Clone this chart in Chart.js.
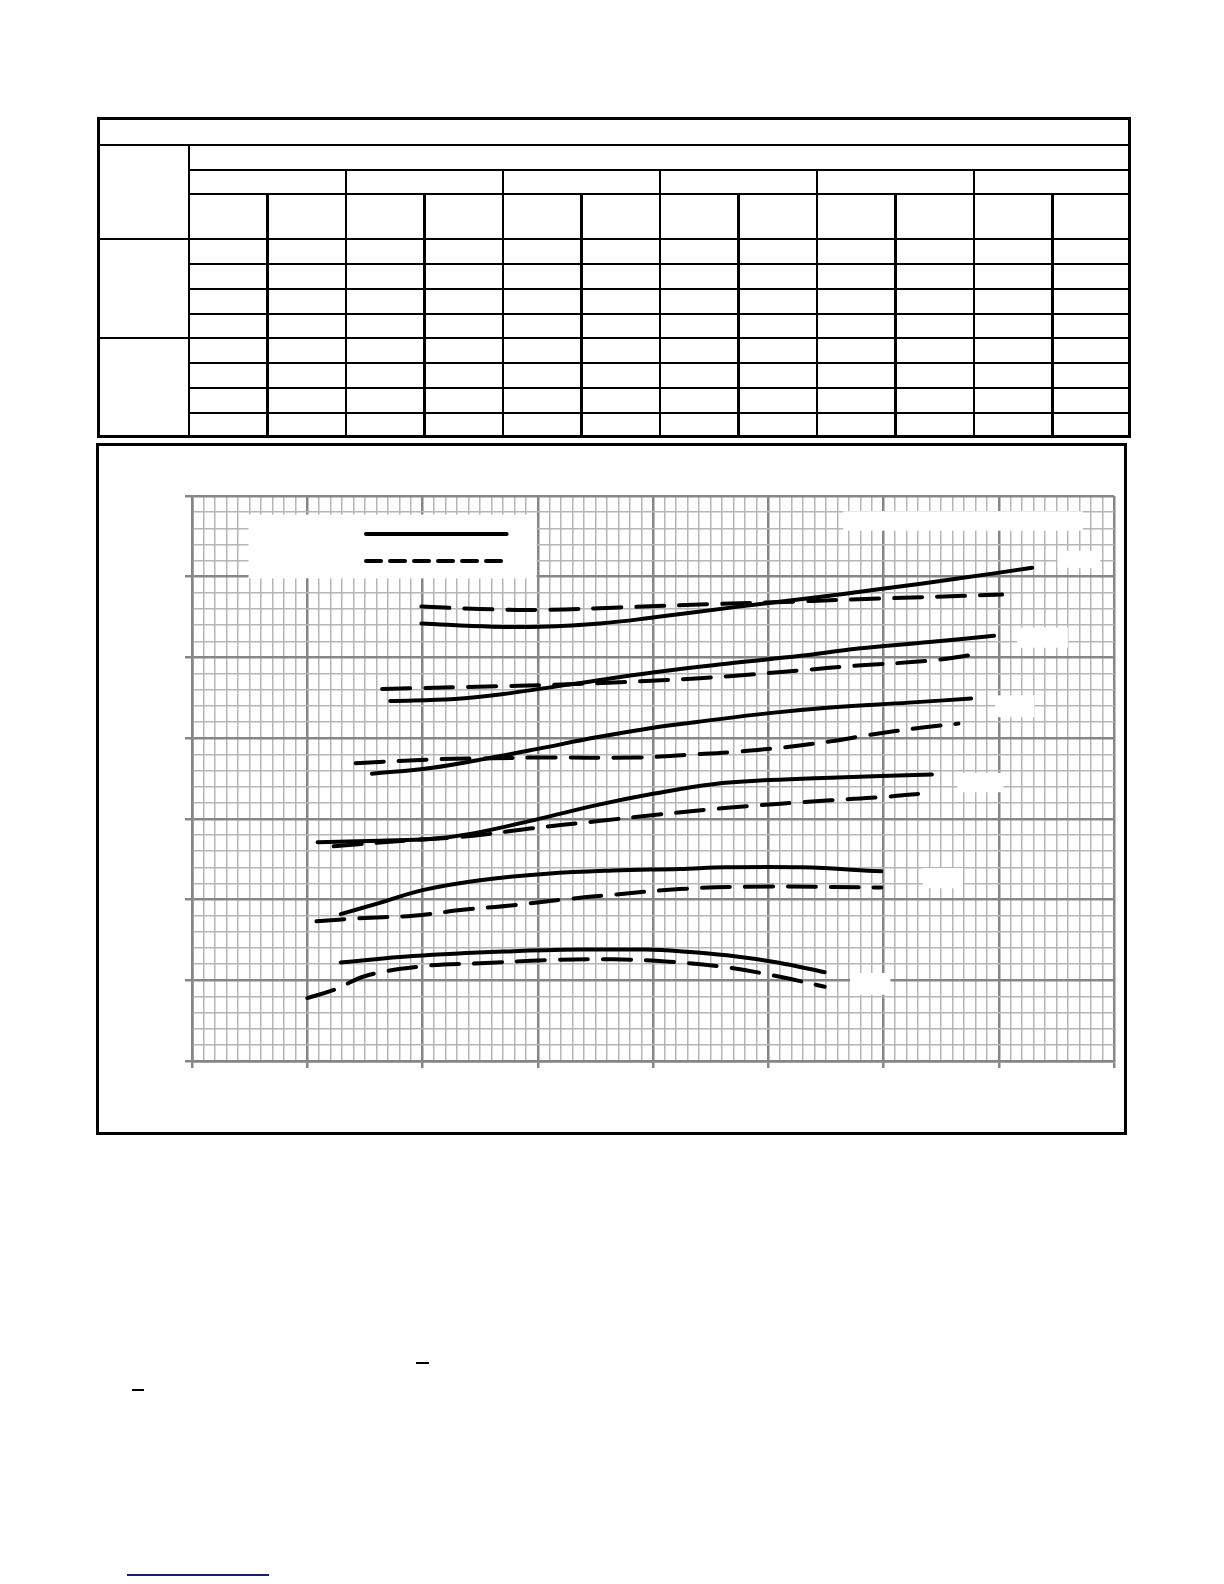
<!DOCTYPE html>
<html><head><meta charset="utf-8">
<script src="https://cdn.jsdelivr.net/npm/chart.js@4.4.1/dist/chart.umd.min.js"></script>
<style>
html,body{margin:0;padding:0;background:#fff;}
body{width:1224px;height:1584px;position:relative;overflow:hidden;}
.ln{position:absolute;}
#tbl{position:absolute;left:97px;top:117px;width:1028px;height:315px;border:3px solid #000;}
#box{position:absolute;left:96px;top:443px;width:1025px;height:686px;border:3px solid #000;}
#cv{position:absolute;left:96px;top:443px;}
</style></head><body>
<div id="tbl"></div>
<div id="box"></div>
<canvas id="cv" width="1029" height="689" style="width:1029px;height:689px"></canvas>
<div id="deco"></div>
<script>
// ---- data (axis units: one major grid cell = 1) ----
const xSolid1 = [1.99,2.61,3.02,3.54,4.03,4.69,5.28,5.99,6.66,7.29];
const ySolid1 = [5.42,5.38,5.38,5.42,5.50,5.62,5.72,5.85,5.98,6.11];
const xDash1  = [1.99,2.50,3.05,3.71,4.52,4.99,5.78,7.03];
const yDash1  = [5.63,5.60,5.59,5.62,5.66,5.68,5.72,5.78];

const xSolid2 = [1.72,2.28,2.67,3.25,4.03,4.69,5.28,5.78,6.40,6.96];
const ySolid2 = [4.46,4.485,4.54,4.66,4.82,4.93,5.02,5.11,5.19,5.27];
const xDash2  = [1.65,2.56,3.11,3.66,4.12,4.69,5.28,5.78,6.40,6.86];
const yDash2  = [4.61,4.64,4.66,4.69,4.72,4.77,4.84,4.90,4.96,5.05];

const xSolid3 = [1.56,2.07,2.64,3.01,3.51,4.00,4.38,5.01,5.54,6.22,6.76];
const ySolid3 = [3.56,3.63,3.77,3.87,4.01,4.13,4.20,4.31,4.38,4.44,4.49];
const xDash3  = [1.42,2.15,2.61,3.00,3.86,4.38,4.71,5.10,5.54,5.88,6.27,6.65];
const yDash3  = [3.69,3.74,3.75,3.76,3.76,3.80,3.83,3.88,3.96,4.04,4.12,4.18];

const xSolid4 = [1.09,1.63,2.07,2.44,3.01,3.51,4.00,4.52,5.01,5.54,6.42];
const ySolid4 = [2.71,2.73,2.75,2.82,3.00,3.17,3.31,3.43,3.48,3.51,3.55];
const xDash4  = [1.23,1.84,2.44,2.93,3.51,4.03,4.67,5.54,5.99,6.39];
const yDash4  = [2.66,2.73,2.79,2.88,2.97,3.05,3.14,3.23,3.27,3.32];

const xSolid5 = [1.29,1.63,2.01,2.50,3.08,3.65,4.23,4.64,5.28,5.98];
const ySolid5 = [1.82,1.96,2.12,2.24,2.32,2.36,2.38,2.40,2.40,2.35];
const xDash5  = [1.08,1.46,1.92,2.33,2.79,3.28,3.65,4.23,4.82,5.98];
const yDash5  = [1.73,1.77,1.80,1.87,1.93,2.01,2.06,2.13,2.16,2.15];

const xSolid6 = [1.29,1.92,2.79,3.37,3.94,4.23,4.64,5.08,5.49];
const ySolid6 = [1.22,1.30,1.36,1.38,1.38,1.36,1.31,1.22,1.10];
const xDash6  = [1.00,1.23,1.52,2.04,2.50,3.08,3.65,4.14,4.64,5.08,5.49];
const yDash6  = [0.78,0.88,1.06,1.18,1.21,1.25,1.26,1.23,1.16,1.05,0.92];

const xRange = [0, 8];
const yRange = [0, 7];

// ---- page frame (table outline and small decorations; text in the source is blank) ----
const deco = document.getElementById('deco');
function line(x1, y1, x2, y2, w, c) {
  const d = document.createElement('div');
  d.className = 'ln';
  d.style.background = c || '#000';
  if (y1 === y2) { d.style.left = x1 + 'px'; d.style.top = (y1 - w / 2) + 'px'; d.style.width = (x2 - x1) + 'px'; d.style.height = w + 'px'; }
  else { d.style.left = (x1 - w / 2) + 'px'; d.style.top = y1 + 'px'; d.style.width = w + 'px'; d.style.height = (y2 - y1) + 'px'; }
  deco.appendChild(d);
}
const T = {l: 97, r: 1131, t: 117, b: 438, c0: 189, cw: (1131 - 189) / 12};
[145, 239, 338].forEach(y => line(T.l, y, T.r, y, 1.6));
[170, 194, 264, 289, 314, 363, 388, 413].forEach(y => line(T.c0, y, T.r, y, 1.6));
line(T.c0, 145, T.c0, T.b, 2.4);
for (let k = 1; k < 12; k++) {
  const x = T.c0 + k * T.cw;
  if (k % 2 === 0) line(x, 170, x, T.b, 2.6); else line(x, 194, x, T.b, 2.2);
}
line(416, 1363, 429, 1363, 1.6);
line(132, 1390, 144, 1390, 1.6);
line(127, 1575, 269, 1575, 1.6, '#1c1c78');

// ---- chart ----
const zip = (xs, ys) => xs.map((x, i) => ({x, y: ys[i]}));
const solid = (xs, ys) => ({data: zip(xs, ys), borderColor: '#000', borderWidth: 4, pointRadius: 0,
  tension: 0.4, borderCapStyle: 'round', borderJoinStyle: 'round', fill: false});
const dashed = (xs, ys) => Object.assign(solid(xs, ys), {borderDash: [28, 15]});

const isMajor = v => Math.abs(v - Math.round(v)) < 1e-6;
const MAJ = '#868686', MIN = '#b6b6b6';

// white patches (blanked labels) and legend, in axis units
const patches = [
  [0.49, 2.99, 5.98, 6.77],
  [5.65, 7.73, 6.57, 6.81],
  [7.51, 7.88, 6.11, 6.32],
  [7.16, 7.60, 5.12, 5.37],
  [6.97, 7.31, 4.26, 4.53],
  [6.64, 7.04, 3.33, 3.57],
  [6.34, 6.69, 2.14, 2.39],
  [5.71, 6.06, 0.82, 1.09]
];
const legendSamples = [
  {x0: 1.51, x1: 2.73, y: 6.53, dash: []},
  {x0: 1.51, x1: 2.73, y: 6.195, dash: [15, 9]}
];
const patchPlugin = {
  id: 'patches',
  beforeDatasetsDraw(chart) {
    const {ctx, scales: {x, y}} = chart;
    ctx.save();
    ctx.fillStyle = '#fff';
    patches.forEach(([a, b, c, d]) => {
      const px0 = x.getPixelForValue(a), px1 = x.getPixelForValue(b);
      const py0 = y.getPixelForValue(d), py1 = y.getPixelForValue(c);
      ctx.fillRect(px0, py0, px1 - px0, py1 - py0);
    });
    ctx.strokeStyle = '#000'; ctx.lineWidth = 4; ctx.lineCap = 'round';
    legendSamples.forEach(s => {
      ctx.setLineDash(s.dash);
      ctx.beginPath();
      ctx.moveTo(x.getPixelForValue(s.x0), y.getPixelForValue(s.y));
      ctx.lineTo(x.getPixelForValue(s.x1), y.getPixelForValue(s.y));
      ctx.stroke();
    });
    ctx.restore();
  }
};

const gridOpts = {
  color: c => isMajor(c.tick.value) ? MAJ : MIN,
  lineWidth: c => isMajor(c.tick.value) ? 2.5 : 1.5,
  tickColor: c => isMajor(c.tick.value) ? MAJ : 'rgba(0,0,0,0)',
  tickWidth: 2.5,
  tickLength: 7,
  drawTicks: true
};

new Chart(document.getElementById('cv'), {
  type: 'line',
  data: {datasets: [
    solid(xSolid1, ySolid1), dashed(xDash1, yDash1),
    solid(xSolid2, ySolid2), dashed(xDash2, yDash2),
    solid(xSolid3, ySolid3), dashed(xDash3, yDash3),
    solid(xSolid4, ySolid4), dashed(xDash4, yDash4),
    solid(xSolid5, ySolid5), dashed(xDash5, yDash5),
    solid(xSolid6, ySolid6), dashed(xDash6, yDash6)
  ]},
  options: {
    responsive: false, animation: false, devicePixelRatio: 1,
    layout: {padding: {left: 96, top: 53, right: 11, bottom: 71}},
    plugins: {legend: {display: false}, tooltip: {enabled: false}, title: {display: false}},
    scales: {
      x: {type: 'linear', min: xRange[0], max: xRange[1],
          ticks: {display: false, stepSize: 0.1, maxTicksLimit: 1000, autoSkip: false},
          grid: gridOpts, border: {display: true, color: MAJ, width: 2.5},
          afterFit: s => { s.height = 0; }},
      y: {type: 'linear', min: yRange[0], max: yRange[1],
          ticks: {display: false, stepSize: 0.2, maxTicksLimit: 1000, autoSkip: false},
          grid: gridOpts, border: {display: true, color: MAJ, width: 2.5},
          afterFit: s => { s.width = 0; }}
    }
  },
  plugins: [patchPlugin]
});
</script>
</body></html>
